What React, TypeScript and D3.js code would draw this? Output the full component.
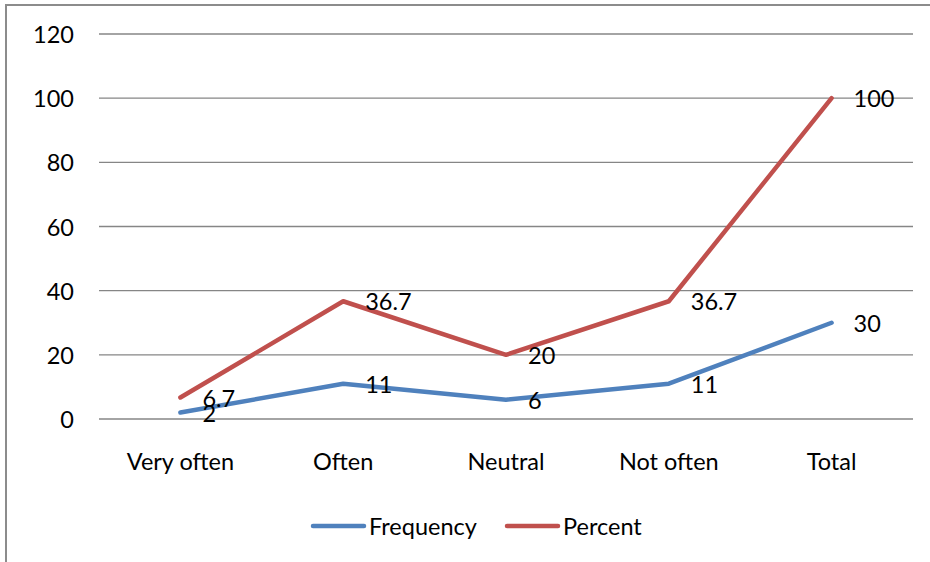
import React from "react";
import * as d3 from "d3";

const categories = ["Very often", "Often", "Neutral", "Not often", "Total"];
const frequency = [2, 11, 6, 11, 30];
const percent = [6.7, 36.7, 20, 36.7, 100];
const percentLabels = ["6.7", "36.7", "20", "36.7", "100"];
const frequencyLabels = ["2", "11", "6", "11", "30"];
const yTicks = [0, 20, 40, 60, 80, 100, 120];

const W = 930;
const H = 562;
const FONT = "Lato, 'Open Sans', sans-serif";
const FS = 23.5;

export default function App() {
  const x = d3.scaleBand<string>().domain(categories).range([99, 913]);
  const y = d3.scaleLinear().domain([0, 120]).range([419, 34]);
  const cx = (c: string) => (x(c) ?? 0) + x.bandwidth() / 2;

  const line = d3
    .line<number>()
    .x((_, i) => cx(categories[i]))
    .y((v) => y(v));

  const series = [
    { name: "Frequency", values: frequency, labels: frequencyLabels, color: "#4F81BD" },
    { name: "Percent", values: percent, labels: percentLabels, color: "#C0504D" },
  ];

  return (
    <svg
      width={W}
      height={H}
      style={{ position: "absolute", left: 0, top: 0, background: "#fff" }}
    >
      <rect x={6} y={5} width={940} height={600} fill="#fff" stroke="#8c8c8c" strokeWidth={2} />
      {yTicks.map((t) => (
        <g key={t}>
          <line x1={99} x2={913} y1={y(t)} y2={y(t)} stroke="#868686" strokeWidth={1.3} />
          <text
            x={74}
            y={y(t)}
            textAnchor="end"
            dominantBaseline="central"
            fontFamily={FONT}
            fontSize={FS}
            fill="#000"
          >
            {t}
          </text>
        </g>
      ))}
      {categories.map((c) => (
        <text
          key={c}
          x={cx(c)}
          y={461}
          textAnchor="middle"
          dominantBaseline="central"
          fontFamily={FONT}
          fontSize={FS}
          fill="#000"
        >
          {c}
        </text>
      ))}
      {series.map((s) => (
        <path
          key={s.name}
          d={line(s.values) ?? ""}
          fill="none"
          stroke={s.color}
          strokeWidth={4.5}
          strokeLinecap="round"
          strokeLinejoin="round"
        />
      ))}
      {series.map((s) =>
        s.values.map((v, i) => (
          <text
            key={s.name + i}
            x={cx(categories[i]) + 22}
            y={y(v)}
            dominantBaseline="central"
            fontFamily={FONT}
            fontSize={FS}
            fill="#000"
          >
            {s.labels[i]}
          </text>
        ))
      )}
      {series.map((s, i) => {
        const lx = 313 + i * 194;
        return (
          <g key={s.name}>
            <line
              x1={lx}
              x2={lx + 51}
              y1={526}
              y2={526}
              stroke={s.color}
              strokeWidth={4.5}
              strokeLinecap="round"
            />
            <text
              x={lx + 56}
              y={526}
              dominantBaseline="central"
              fontFamily={FONT}
              fontSize={FS}
              fill="#000"
            >
              {s.name}
            </text>
          </g>
        );
      })}
    </svg>
  );
}
